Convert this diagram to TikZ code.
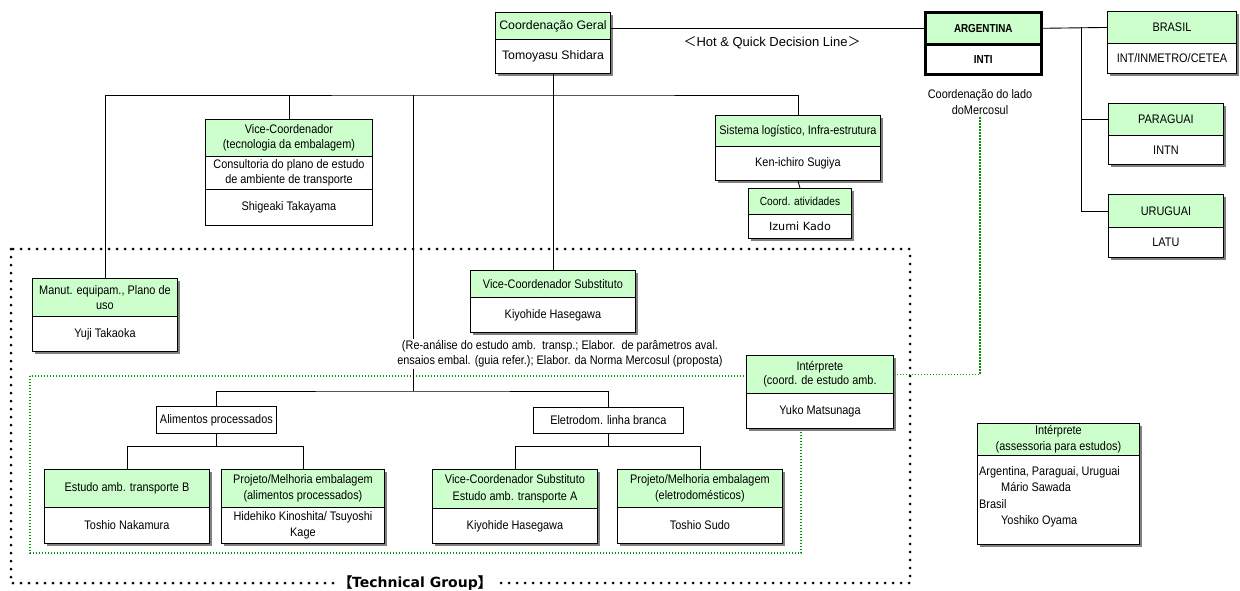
\documentclass[tikz,border=0pt]{standalone}
\usepackage{fontspec}
\setmainfont{Liberation Sans}
\newfontfamily\narrowsf{Liberation Sans}[FakeStretch=0.88]
\newfontfamily\boldnarrow{Liberation Sans}[FakeStretch=0.85]
\newfontfamily\cjk{Noto Sans CJK JP}[AutoFakeBold=2]
\newfontfamily\dejavu{DejaVu Sans}
\usetikzlibrary{calc}

\definecolor{headgreen}{RGB}{204,255,204}
\definecolor{guidegreen}{RGB}{0,150,0}

% text styles
\newcommand\lbl{\narrowsf\fontsize{12.4}{15.5}\selectfont}
\newcommand\widelbl{\normalfont\fontsize{12.3}{15}\selectfont}
\newcommand\ctrylbl{\boldnarrow\bfseries\fontsize{11.6}{14}\selectfont}

% one compartment of an org box: [style]{name}{left}{top}{right}{bottom}{text}
\newcommand\orgpart[7][]{\node[orgcell,minimum width={(#5-#3)*1pt},minimum height={(#6-#4)*1pt},#1] (#2) at (#3,#4) {#7};}
% drop shadow behind a box: {left}{top}{right}{bottom}
\newcommand\orgshadow[4]{\fill[shadowgray] (#1+3,#2+3) rectangle (#3+3,#4+3);}

\tikzset{
  orgcell/.style={draw, line width=0.9pt, fill=white, inner sep=0pt, align=center, anchor=north west, font=\lbl},
  hd/.style={fill=headgreen},
  shadowgray/.style={fill=black!50},
  link/.style={draw, line width=0.9pt},
  greenguide/.style={draw=guidegreen, line width=1.1pt, dash pattern=on 1.1pt off 1.9pt},
  groupframe/.style={draw, line width=3pt, line cap=round, dash pattern=on 0pt off 8pt},
}

\begin{document}
\begin{tikzpicture}[x=1pt,y=-1pt]
\useasboundingbox (0,0) rectangle (1240,591);

% ---- group frames
\draw[greenguide] (30,376) rectangle (801,553);
\draw[groupframe] (11,249) rectangle (910,583);

% ---- boxes
% Coordenação Geral
\orgshadow{495}{12}{610}{73}
\orgpart[hd,font=\widelbl]{cg-h}{495}{12}{610}{39}{Coordenação Geral}
\orgpart[font=\widelbl]{cg-b}{495}{39}{610}{73}{Tomoyasu Shidara}

% Argentina
\orgpart[hd,line width=2.6pt,font=\ctrylbl]{ar-h}{924}{11}{1040}{43}{ARGENTINA}
\orgpart[line width=2.6pt,font=\ctrylbl]{ar-b}{924}{43}{1040}{73}{INTI}

% Brasil, Paraguai, Uruguai
\orgshadow{1107}{11}{1236}{73}
\orgpart[hd]{br-h}{1107}{11}{1236}{43}{BRASIL}
\orgpart{br-b}{1107}{43}{1236}{73}{INT/INMETRO/CETEA}
\orgshadow{1108}{103}{1223}{164}
\orgpart[hd]{pa-h}{1108}{103}{1223}{135}{PARAGUAI}
\orgpart{pa-b}{1108}{135}{1223}{164}{INTN}
\orgshadow{1108}{194}{1223}{257}
\orgpart[hd]{ur-h}{1108}{194}{1223}{227}{URUGUAI}
\orgpart{ur-b}{1108}{227}{1223}{257}{LATU}

% Vice-Coordenador (tecnologia)
\orgpart[hd]{vt-h}{205}{119}{372}{156}{Vice-Coordenador\\(tecnologia da embalagem)}
\orgpart{vt-m}{205}{156}{372}{189}{Consultoria do plano de estudo\\de ambiente de transporte}
\orgpart{vt-b}{205}{189}{372}{225}{Shigeaki Takayama}

% Sistema logístico
\orgshadow{715}{115}{880}{180}
\orgpart[hd]{sl-h}{715}{115}{880}{146}{Sistema logístico, Infra-estrutura}
\orgpart{sl-b}{715}{146}{880}{180}{Ken-ichiro Sugiya}
\orgshadow{748}{188}{851}{238}
\orgpart[hd,font={\narrowsf\fontsize{11.6}{14}\selectfont}]{ca-h}{748}{188}{851}{214}{Coord. atividades}
\orgpart[font={\dejavu\fontsize{11.2}{14}\selectfont}]{ca-b}{748}{214}{851}{238}{Izumi Kado}

% Manutenção
\orgshadow{32}{278}{177}{351}
\orgpart[hd,font={\narrowsf\fontsize{12.4}{14.5}\selectfont}]{mn-h}{32}{278}{177}{316}{Manut. equipam., Plano de\\uso}
\orgpart{mn-b}{32}{316}{177}{351}{Yuji Takaoka}

% Vice-Coordenador Substituto
\orgshadow{470}{270}{635}{332}
\orgpart[hd]{vs-h}{470}{270}{635}{297}{Vice-Coordenador Substituto}
\orgpart{vs-b}{470}{297}{635}{332}{Kiyohide Hasegawa}

% Intérprete (coord.)
\orgshadow{746}{355}{893}{428}
\orgpart[hd,font={\narrowsf\fontsize{12.4}{14.5}\selectfont}]{it-h}{746}{355}{893}{393}{Intérprete\\(coord. de estudo amb.}
\orgpart{it-b}{746}{393}{893}{428}{Yuko Matsunaga}

% branch headers
\orgpart[line width=0.8pt]{al}{156}{406}{276}{433}{Alimentos processados}
\orgpart[line width=0.8pt]{el}{533}{407}{683}{433}{Eletrodom. linha branca}

% technical teams
\orgshadow{44}{469}{209}{543}
\orgpart[hd]{eb-h}{44}{469}{209}{507}{Estudo amb. transporte B}
\orgpart{eb-b}{44}{507}{209}{543}{Toshio Nakamura}
\orgshadow{221}{469}{384}{543}
\orgpart[hd,font={\narrowsf\fontsize{12.4}{16.5}\selectfont}]{pa1-h}{221}{469}{384}{507}{Projeto/Melhoria embalagem\\(alimentos processados)}
\orgpart[font={\narrowsf\fontsize{12.4}{16.5}\selectfont}]{pa1-b}{221}{507}{384}{543}{Hidehiko Kinoshita/ Tsuyoshi\\Kage}
\orgshadow{432}{469}{597}{543}
\orgpart[hd,font={\narrowsf\fontsize{12.4}{16.5}\selectfont}]{va-h}{432}{469}{597}{508}{Vice-Coordenador Substituto\\Estudo amb. transporte A}
\orgpart{va-b}{432}{508}{597}{543}{Kiyohide Hasegawa}
\orgshadow{617}{469}{782}{543}
\orgpart[hd,font={\narrowsf\fontsize{12.4}{16.5}\selectfont}]{pe-h}{617}{469}{782}{507}{Projeto/Melhoria embalagem\\(eletrodomésticos)}
\orgpart{pe-b}{617}{507}{782}{543}{Toshio Sudo}

% Intérprete (assessoria)
\orgshadow{977}{423}{1139}{544}
\orgpart[hd,font={\narrowsf\fontsize{12.4}{16}\selectfont}]{ia-h}{977}{423}{1139}{455}{Intérprete\\(assessoria para estudos)}
\orgpart{ia-b}{977}{455}{1139}{544}{}
\node[anchor=north west, align=left, inner sep=0pt, font={\narrowsf\fontsize{12.4}{16.5}\selectfont}] (ia-t) at (979,466)
  {Argentina, Paraguai, Uruguai\\\hspace*{22pt}Mário Sawada\\Brasil\\\hspace*{22pt}Yoshiko Oyama};

% ---- free labels
\node[font={\normalfont\fontsize{13}{15}\selectfont}, inner sep=1pt] (hq) at (772,43)
  {{\cjk ＜}Hot \& Quick Decision Line{\cjk ＞}};
\node[font=\lbl, align=center, inner sep=2pt] (mcs) at (980,102) {Coordenação do lado\\doMercosul};

% ---- connectors
\coordinate (bus) at (553,95);
\coordinate (lowbus) at (413,391);
\coordinate (trunk) at (1081,27);
\draw[link] (cg-h.east |- ar-h.west) -- (ar-h.west);
\draw[link] (ar-h.east) -- (br-h.west);
\draw[link] (trunk) |- (ur-h.west);
\draw[link] (trunk |- pa-h.west) -- (pa-h.west);
\draw[link] (cg-b.south) -- (vs-h.north);
\draw[link] (mn-h.north) |- (bus) -| (sl-h.north);
\draw[link] (vt-h.north) -- (vt-h.north |- bus);
\draw[link] (sl-b.south) -- (ca-h.north);
\draw[link] (bus -| lowbus) -- (lowbus);
\draw[link] (al.north) |- (lowbus) -| (el.north);
\draw[link] (al.south) -- ++(0,13) coordinate (alfork);
\draw[link] (eb-h.north) |- (alfork) -| (pa1-h.north);
\draw[link] (el.south) -- ++(0,13) coordinate (elfork);
\draw[link] (va-h.north) |- (elfork) -| (pe-h.north);
\draw[greenguide] (it-h.east) -| (mcs.south);

% scope of the technical group, over the trunk line
\node[font={\narrowsf\fontsize{12.4}{15}\selectfont}, align=center, fill=white, inner sep=1.5pt] (task) at (560,354)
  {(Re-análise do estudo amb.\ \ transp.; Elabor.\ \ de parâmetros aval.\\ensaios embal. (guia refer.); Elabor. da Norma Mercosul (proposta)};

% group caption on the frame
\node[fill=white, inner sep=3pt, font={\dejavu\bfseries\fontsize{14}{16}\selectfont}] (tg) at (415,583)
  {{\cjk\bfseries 【}Technical Group{\cjk\bfseries 】}};
\end{tikzpicture}
\end{document}
